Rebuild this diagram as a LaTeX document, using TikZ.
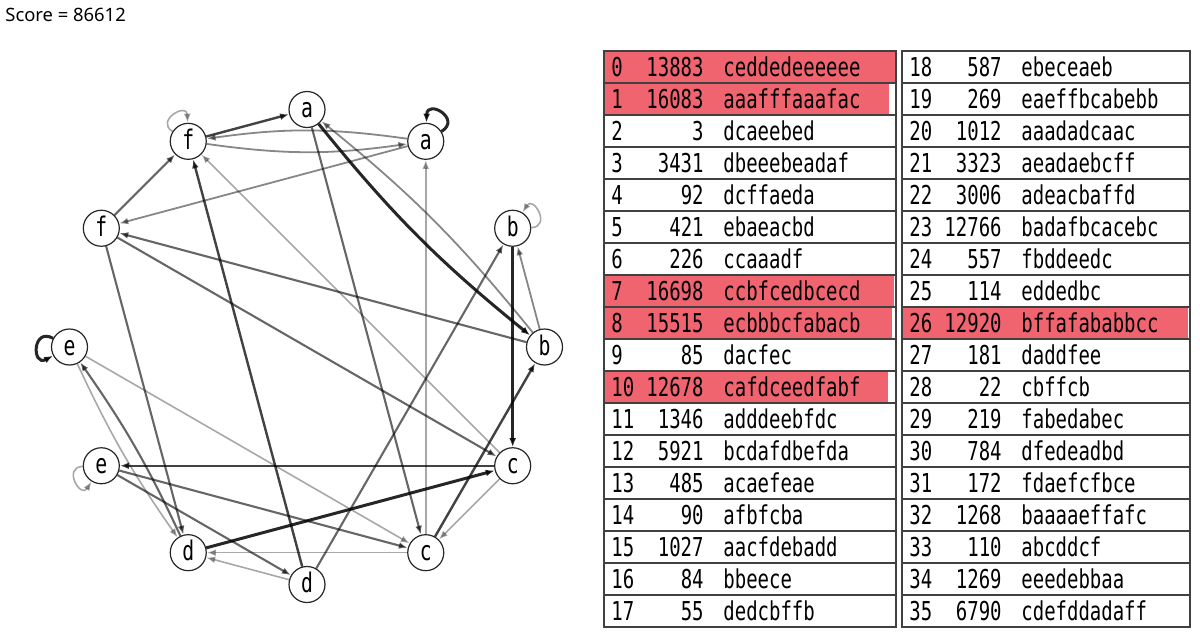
\documentclass[tikz,border=0pt]{standalone}
\usepackage{fontspec}
\setmainfont{Noto Sans}
\newfontfamily\tabfont[FakeStretch=0.73]{DejaVu Sans Mono}
\usetikzlibrary{arrows.meta}
\definecolor{hilite}{RGB}{240,100,112}
\tikzset{
  vtx/.style={circle, draw=black!85, line width=0.6pt, fill=white, minimum size=18pt,
    inner sep=0pt, text height=8pt, text depth=0pt, font=\tabfont\fontsize{13.5}{13.5}\selectfont},
  link/.style={-{Latex[length=4.5pt,width=3.4pt]}},
  heavyedge/.style={link, line width=1.5pt, opacity=0.85},
  darkedge/.style={link, line width=1.2pt, opacity=0.74},
  midedge/.style={link, line width=1.05pt, opacity=0.6},
  paleedge/.style={link, line width=0.9pt, opacity=0.47},
  faintedge/.style={link, line width=0.8pt, opacity=0.34},
  selfloop/.style={loop, looseness=3},
  cellbox/.style={draw=black!75, line width=0.7pt},
  idxtext/.style={anchor=base west, inner sep=0pt, font=\tabfont\fontsize{13}{13}\selectfont},
  numtext/.style={idxtext, anchor=base east},
  strtext/.style={idxtext}
}

\begin{document}
\begin{tikzpicture}[x=0.5pt, y=0.5pt]
    \useasboundingbox (0,0) rectangle (1200,634); % same frame as the screenshot

    \node[anchor=base west, inner sep=0pt, font=\fontsize{9.2}{11}\selectfont] (score) at (5,613) {Score = 86612};

    % the ring of letters
    \begin{scope}[shift={(307,287)}]
      \foreach \n/\l/\ang in {a1/a/90, a2/a/60, b1/b/30, b2/b/0, c1/c/-30, c2/c/-60,
                              d2/d/-90, d1/d/-120, e2/e/-150, e1/e/180, f2/f/150, f1/f/120}
        \node[vtx] (\n) at (\ang:237.5) {\l};
    \end{scope}

    \draw[heavyedge] (a1) to[bend right=6] (b2);
    \draw[paleedge] (b2) to[bend right=6] (a1);
    \draw[paleedge] (a2) to[bend right=8] (f1);
    \draw[paleedge] (f1) to[bend right=8] (a2);
    \draw[midedge] (d1) to[bend right=5] (e1);
    \draw[faintedge] (e1) to[bend right=5] (d1);
    \draw[heavyedge] (b1) -- (c1);
    \draw[heavyedge] (d1) -- (c1);
    \draw[darkedge] (f1) -- (a1);
    \draw[darkedge] (c1) -- (e2);
    \draw[darkedge] (c2) -- (b2);
    \draw[darkedge] (d2) -- (f1);
    \draw[midedge] (a1) -- (c2);
    \draw[midedge] (b2) -- (f2);
    \draw[midedge] (f2) -- (c1);
    \draw[midedge] (f2) -- (d1);
    \draw[midedge] (f2) -- (f1);
    \draw[midedge] (e2) -- (c2);
    \draw[midedge] (e2) -- (d2);
    \draw[midedge] (d2) -- (b1);
    \draw[paleedge] (b2) -- (b1);
    \draw[paleedge] (a2) -- (f2);
    \draw[faintedge] (c1) -- (f1);
    \draw[faintedge] (c2) -- (a2);
    \draw[faintedge] (e1) -- (c2);
    \draw[faintedge] (c1) -- (c2);
    \draw[faintedge] (c2) -- (d1);
    \draw[faintedge] (d2) -- (d1);

    % self loops
    \draw[heavyedge] (a2) to[selfloop, out=32, in=88, min distance=12pt] (a2);
    \draw[heavyedge] (e1) to[selfloop, out=152, in=208, min distance=12pt] (e1);
    \draw[faintedge] (f1) to[selfloop, out=148, in=92, min distance=10pt] (f1);
    \draw[faintedge] (b1) to[selfloop, out=2, in=58, min distance=10pt] (b1);
    \draw[faintedge] (e2) to[selfloop, out=182, in=238, min distance=10pt] (e2);

    % red bars first, then the grid and the text
    \foreach \i/\xe in {0/895, 1/889, 7/894, 8/892, 10/888, 26/1188}{
      \pgfmathtruncatemacro{\col}{\i>17}
      \pgfmathtruncatemacro{\row}{\i-18*\col}
      \pgfmathsetmacro{\xl}{604+298*\col}
      \pgfmathsetmacro{\yt}{583-32*\row}
      \fill[hilite] (\xl,\yt) rectangle (\xe,\yt-32);
    }
    \foreach \i/\sc/\str in {0/13883/ceddedeeeeee, 1/16083/aaafffaaafac, 2/3/dcaeebed,
        3/3431/dbeeebeadaf, 4/92/dcffaeda, 5/421/ebaeacbd, 6/226/ccaaadf,
        7/16698/ccbfcedbcecd, 8/15515/ecbbbcfabacb, 9/85/dacfec, 10/12678/cafdceedfabf,
        11/1346/adddeebfdc, 12/5921/bcdafdbefda, 13/485/acaefeae, 14/90/afbfcba,
        15/1027/aacfdebadd, 16/84/bbeece, 17/55/dedcbffb, 18/587/ebeceaeb,
        19/269/eaeffbcabebb, 20/1012/aaadadcaac, 21/3323/aeadaebcff, 22/3006/adeacbaffd,
        23/12766/badafbcacebc, 24/557/fbddeedc, 25/114/eddedbc, 26/12920/bffafababbcc,
        27/181/daddfee, 28/22/cbffcb, 29/219/fabedabec, 30/784/dfedeadbd,
        31/172/fdaefcfbce, 32/1268/baaaaeffafc, 33/110/abcddcf, 34/1269/eeedebbaa,
        35/6790/cdefddadaff}{
      \pgfmathtruncatemacro{\col}{\i>17}
      \pgfmathtruncatemacro{\row}{\i-18*\col}
      \pgfmathsetmacro{\xl}{604+298*\col}
      \pgfmathsetmacro{\xr}{896+294*\col}
      \pgfmathsetmacro{\yt}{583-32*\row}
      \draw[cellbox] (\xl,\yt) rectangle (\xr,\yt-32);
      \node[idxtext] (idx\i) at (\xl+7,\yt-25) {\i};
      \node[numtext] (sc\i) at (\xl+100,\yt-25) {\sc};
      \node[strtext] (str\i) at (\xl+119,\yt-25) {\str};
    }
\end{tikzpicture}
\end{document}
